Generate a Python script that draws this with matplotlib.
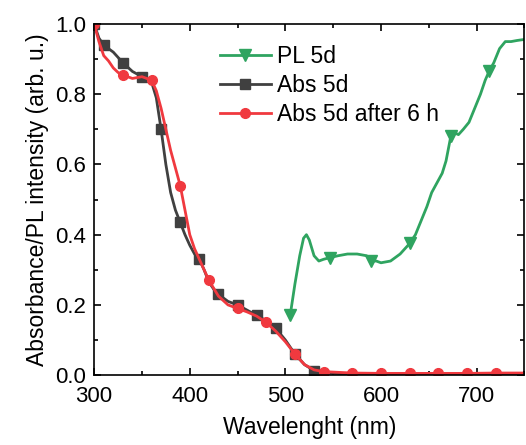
import matplotlib
matplotlib.use('Agg')
import matplotlib.pyplot as plt
from matplotlib.ticker import MultipleLocator

plt.rcParams['font.family'] = ['Liberation Sans', 'DejaVu Sans']

# Abs 5d (grey squares)
abs_wl = [300, 305, 310, 315, 320, 325, 330, 340, 350, 355, 360, 365, 370, 375,
          380, 385, 390, 395, 400, 405, 410, 415, 420, 425, 430, 440, 450, 460,
          470, 480, 490, 500, 510, 520, 530, 540, 560, 600, 650, 700, 750]
abs_val = [1.0, 0.96, 0.94, 0.93, 0.92, 0.905, 0.89, 0.865, 0.85, 0.845, 0.835,
           0.79, 0.70, 0.60, 0.52, 0.47, 0.435, 0.40, 0.37, 0.345, 0.33, 0.30,
           0.265, 0.245, 0.23, 0.21, 0.20, 0.185, 0.17, 0.155, 0.133, 0.10,
           0.06, 0.03, 0.013, 0.006, 0.004, 0.003, 0.003, 0.003, 0.003]
abs_marks = [300, 310, 330, 350, 370, 390, 410, 430, 450, 470, 490, 510, 530]

# Abs 5d after 6 h (red circles)
aged_wl = [300, 305, 310, 315, 320, 325, 330, 340, 350, 355, 360, 365, 370,
           375, 380, 385, 390, 395, 400, 405, 410, 415, 420, 430, 440, 450,
           460, 470, 480, 490, 500, 510, 520, 530, 540, 570, 600, 630, 660,
           690, 720, 750]
aged_val = [1.0, 0.95, 0.91, 0.895, 0.875, 0.862, 0.855, 0.845, 0.85, 0.845,
            0.84, 0.81, 0.76, 0.70, 0.64, 0.59, 0.54, 0.47, 0.40, 0.36, 0.33,
            0.30, 0.27, 0.225, 0.20, 0.19, 0.18, 0.168, 0.15, 0.125, 0.095,
            0.06, 0.03, 0.015, 0.01, 0.006, 0.005, 0.005, 0.005, 0.005, 0.006,
            0.006]
aged_marks = [300, 330, 360, 390, 420, 450, 480, 510, 540, 570, 600, 630, 660,
              690, 720]

# PL 5d (green triangles)
pl_wl = [505, 510, 515, 519, 522, 525, 530, 535, 540, 547, 555, 565, 575, 585,
         590, 595, 600, 610, 620, 630, 636, 642, 648, 653, 659, 664, 668, 673,
         677, 681, 686, 692, 698, 704, 709, 713, 718, 724, 730, 736, 742, 747,
         750]
pl_val = [0.17, 0.26, 0.34, 0.39, 0.40, 0.385, 0.34, 0.325, 0.33, 0.335,
          0.34, 0.345, 0.345, 0.34, 0.325, 0.325, 0.32, 0.325, 0.345, 0.375,
          0.40, 0.44, 0.48, 0.52, 0.55, 0.575, 0.61, 0.68, 0.69, 0.685, 0.70,
          0.72, 0.76, 0.80, 0.84, 0.865, 0.89, 0.93, 0.95, 0.95, 0.953, 0.955,
          0.956]
pl_marks = [505, 547, 590, 630, 673, 713]

green = '#2fa460'
grey = '#404040'
red = '#f0393f'

fig = plt.figure(figsize=(5.26, 4.45), dpi=100)
ax = fig.add_axes([0.179, 0.157, 0.818, 0.789])

ax.plot(pl_wl, pl_val, '-v', color=green, lw=2, ms=8,
        markevery=[pl_wl.index(w) for w in pl_marks], label='PL 5d')
ax.plot(abs_wl, abs_val, '-s', color=grey, lw=2, ms=6.5,
        markevery=[abs_wl.index(w) for w in abs_marks], label='Abs 5d')
ax.plot(aged_wl, aged_val, '-o', color=red, lw=2, ms=7,
        markevery=[aged_wl.index(w) for w in aged_marks],
        label='Abs 5d after 6 h')

ax.set_xlim(300, 750)
ax.set_ylim(0, 1.0)
ax.xaxis.set_major_locator(MultipleLocator(100))
ax.xaxis.set_minor_locator(MultipleLocator(50))
ax.yaxis.set_major_locator(MultipleLocator(0.2))
ax.yaxis.set_minor_locator(MultipleLocator(0.1))
ax.yaxis.set_major_formatter(matplotlib.ticker.FormatStrFormatter('%.1f'))
ax.tick_params(which='both', direction='in', top=True, right=True,
               labelsize=16, width=1.2)
ax.tick_params(which='major', length=5)
ax.tick_params(which='minor', length=3)
ax.tick_params(axis='x', pad=8)
ax.tick_params(axis='y', pad=6)
for s in ax.spines.values():
    s.set_linewidth(1.2)

ax.set_xlabel('Wavelenght (nm)', fontsize=16.5, labelpad=6)
ax.set_ylabel('Absorbance/PL intensity (arb. u.)', fontsize=16.5, labelpad=4)

ax.legend(loc='upper left', bbox_to_anchor=(0.245, 0.998), frameon=False,
          fontsize=16.5, handlelength=2.2, labelspacing=0.25,
          handletextpad=0.3)

fig.savefig('out.png', dpi=100)
